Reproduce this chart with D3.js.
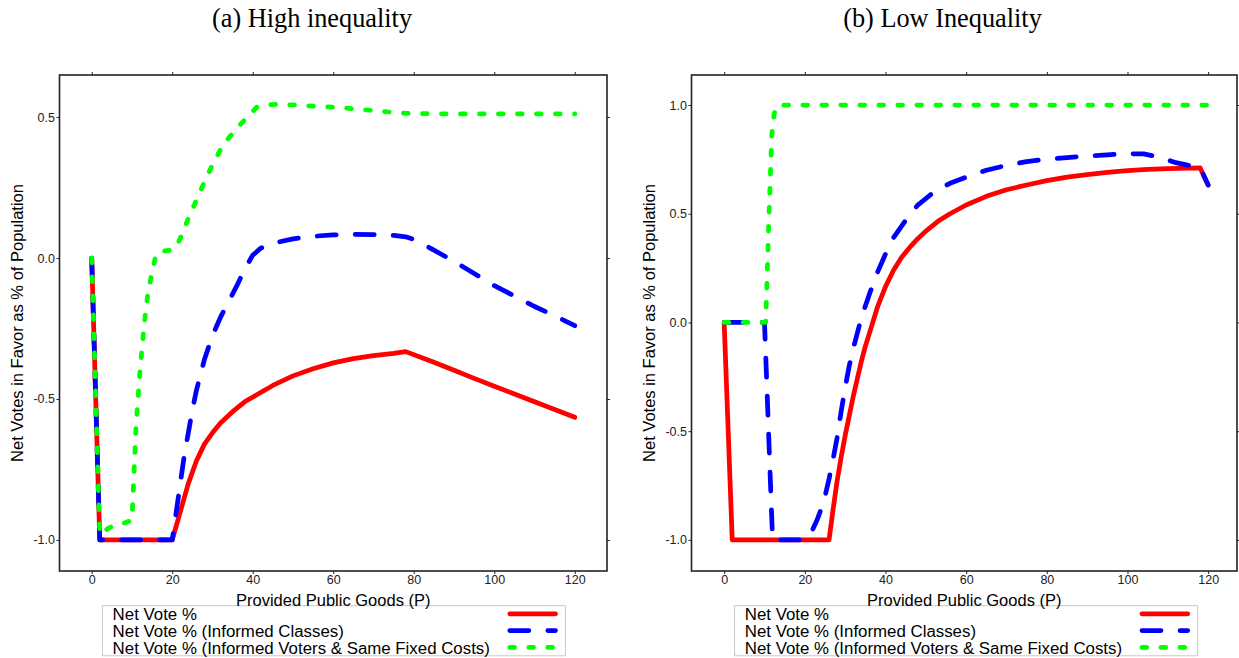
<!DOCTYPE html>
<html>
<head>
<meta charset="utf-8">
<script src="https://cdn.jsdelivr.net/npm/d3@7"></script>
<style>
  body { margin: 0; background: #fff; }
  svg { display: block; }
</style>
</head>
<body>
<div id="chart"></div>
<script>
// tick labels
const xTicks = [0, 20, 40, 60, 80, 100, 120]
const highYTicks = [-1, -0.5, 0, 0.5]
const lowYTicks = [-1, -0.5, 0, 0.5, 1]

const seriesNames = [
  "Net Vote %",
  "Net Vote % (Informed Classes)",
  "Net Vote % (Informed Voters & Same Fixed Costs)"
]

// (a) high inequality
const highNetP = [0, 2, 20, 21, 22, 23, 24, 26, 28, 30, 32, 35, 38, 41, 45, 50, 55, 60, 65, 70, 75, 78, 85, 90, 95, 100, 105, 110, 115, 120]
const highNetV = [0, -1, -1, -0.95, -0.9, -0.85, -0.8, -0.72, -0.66, -0.62, -0.585, -0.545, -0.51, -0.485, -0.452, -0.418, -0.393, -0.372, -0.357, -0.346, -0.338, -0.332, -0.37, -0.398, -0.427, -0.455, -0.482, -0.51, -0.537, -0.565]

const highClassP = [0, 2, 20, 21, 22, 23, 24, 25, 26, 28, 30, 32, 34, 36, 38, 40, 42, 45, 50, 55, 60, 65, 70, 75, 78, 80, 85, 90, 95, 100, 105, 110, 115, 120]
const highClassV = [0, -1, -1, -0.9, -0.8, -0.7, -0.62, -0.54, -0.47, -0.36, -0.275, -0.21, -0.155, -0.1, -0.04, 0.01, 0.035, 0.052, 0.068, 0.077, 0.082, 0.084, 0.083, 0.08, 0.075, 0.066, 0.028, -0.012, -0.055, -0.098, -0.135, -0.172, -0.205, -0.24]

const highFixedP = [0, 2, 4, 6, 8, 10, 11, 12, 13, 14, 15, 16, 18, 20, 21, 22, 24, 26, 28, 30, 32, 34, 36, 38, 40, 41, 43, 46, 50, 56, 60, 66, 70, 76, 80, 90, 100, 110, 120]
const highFixedV = [0, -0.98, -0.96, -0.945, -0.94, -0.93, -0.6, -0.4, -0.24, -0.12, -0.05, 0.015, 0.025, 0.028, 0.04, 0.07, 0.14, 0.205, 0.27, 0.33, 0.385, 0.425, 0.46, 0.49, 0.52, 0.535, 0.543, 0.545, 0.543, 0.538, 0.535, 0.528, 0.523, 0.515, 0.512, 0.511, 0.511, 0.511, 0.511]

// (b) low inequality
const lowNetP = [0, 2, 26, 27, 28, 29, 30, 31, 32, 33, 34, 35, 36, 38, 40, 42, 44, 46, 48, 50, 53, 56, 60, 65, 70, 75, 80, 85, 90, 95, 100, 105, 110, 118, 120]
const lowNetV = [0, -1, -1, -0.86, -0.73, -0.62, -0.52, -0.43, -0.34, -0.26, -0.18, -0.11, -0.05, 0.07, 0.165, 0.24, 0.3, 0.345, 0.385, 0.42, 0.465, 0.5, 0.54, 0.58, 0.61, 0.632, 0.652, 0.668, 0.68, 0.69, 0.698, 0.704, 0.708, 0.711, 0.632]

const lowClassP = [0, 10, 12, 20, 21, 22, 23, 24, 25, 26, 27, 28, 29, 30, 31, 32, 33, 34, 36, 38, 40, 42, 45, 48, 52, 56, 60, 65, 70, 75, 80, 85, 90, 95, 100, 104, 108, 112, 118, 120]
const lowClassV = [0, 0, -1, -1, -0.985, -0.95, -0.91, -0.86, -0.8, -0.72, -0.63, -0.53, -0.41, -0.3, -0.2, -0.12, -0.05, 0.02, 0.13, 0.23, 0.315, 0.39, 0.47, 0.54, 0.6, 0.64, 0.668, 0.7, 0.722, 0.74, 0.751, 0.758, 0.765, 0.771, 0.776, 0.775, 0.76, 0.735, 0.711, 0.632]

const lowFixedP = [0, 10.3, 11, 11.8, 12.4, 13.3, 120]
const lowFixedV = [0, 0, 0.43, 0.86, 0.96, 1, 1]

const colors = ["#ff0000", "#0000ff", "#00ff00"]
const dashes = [null, "19,19", "4.75,14.25"]
const LW = 4.75
const SANS = "'Liberation Sans', Arial, Helvetica, sans-serif"
const SERIF = "'Liberation Serif', 'Times New Roman', serif"
const INK = "#222"

const svg = d3.select("#chart").append("svg")
  .attr("width", 1239)
  .attr("height", 658)

const zip = (xs, ys) => xs.map((p, i) => [p, ys[i]])

function drawPanel(p) {
  const x = d3.scaleLinear().domain(p.xDomain).range([p.left, p.right])
  const y = d3.scaleLinear().domain(p.yDomain).range([p.bottom, p.top])

  const g = svg.append("g")

  // title
  g.append("text")
    .attr("x", p.titleX)
    .attr("y", 27)
    .attr("text-anchor", "middle")
    .attr("font-family", SERIF)
    .attr("font-size", "26.3px")
    .attr("fill", "#000")
    .text(p.title)

  const styleAxis = sel => {
    sel.select(".domain").remove()
    sel.selectAll(".tick line").attr("stroke", INK)
    sel.selectAll(".tick text")
      .attr("font-family", SANS)
      .attr("font-size", "12.5px")
      .attr("fill", INK)
  }

  g.append("g")
    .attr("transform", `translate(0, ${p.bottom})`)
    .call(d3.axisBottom(x).tickValues(xTicks).tickSize(3).tickPadding(1).tickFormat(d3.format("d")))
    .call(styleAxis)
  g.append("g")
    .attr("transform", `translate(0, ${p.top})`)
    .call(d3.axisTop(x).tickValues(xTicks).tickSize(3).tickFormat(""))
    .call(styleAxis)
  g.append("g")
    .attr("transform", `translate(${p.left}, 0)`)
    .call(d3.axisLeft(y).tickValues(p.yTicks).tickSize(3).tickPadding(1.5).tickFormat(d => d.toFixed(1)))
    .call(styleAxis)
  g.append("g")
    .attr("transform", `translate(${p.right}, 0)`)
    .call(d3.axisRight(y).tickValues(p.yTicks).tickSize(3).tickFormat(""))
    .call(styleAxis)

  // frame
  g.append("rect")
    .attr("x", p.left)
    .attr("y", p.top)
    .attr("width", p.right - p.left)
    .attr("height", p.bottom - p.top)
    .attr("fill", "none")
    .attr("stroke", INK)
    .attr("stroke-width", 1.6)

  const line = d3.line()
    .x(d => x(d[0]))
    .y(d => y(d[1]))

  p.series.forEach((s, i) => {
    g.append("path")
      .datum(s)
      .attr("d", line)
      .attr("fill", "none")
      .attr("stroke", colors[i])
      .attr("stroke-width", LW)
      .attr("stroke-linecap", "round")
      .attr("stroke-linejoin", "round")
      .attr("stroke-dasharray", dashes[i])
  })

  // legend
  const lg = g.append("g")
  lg.append("rect")
    .attr("x", p.legLeft)
    .attr("y", 605.7)
    .attr("width", p.legRight - p.legLeft)
    .attr("height", 50.1)
    .attr("fill", "none")
    .attr("stroke", "#c8c8c8")
    .attr("stroke-width", 1)

  seriesNames.forEach((name, i) => {
    const base = 620.3 + i * 16.8
    lg.append("text")
      .attr("x", p.legLeft + 10.2)
      .attr("y", base)
      .attr("font-family", SANS)
      .attr("font-size", "16.85px")
      .attr("fill", "#000")
      .text(name)
    lg.append("line")
      .attr("x1", p.legRight - 55.6)
      .attr("x2", p.legRight - 9.9)
      .attr("y1", base - 6.5)
      .attr("y2", base - 6.5)
      .attr("stroke", colors[i])
      .attr("stroke-width", LW)
      .attr("stroke-linecap", "round")
      .attr("stroke-dasharray", dashes[i])
  })

  // axis titles
  g.append("text")
    .attr("x", (p.left + p.right) / 2)
    .attr("y", 605.5)
    .attr("text-anchor", "middle")
    .attr("font-family", SANS)
    .attr("font-size", "16.5px")
    .attr("fill", "#000")
    .text("Provided Public Goods (P)")

  g.append("text")
    .attr("transform", `translate(${p.left - 36.5}, ${(p.top + p.bottom) / 2}) rotate(-90)`)
    .attr("text-anchor", "middle")
    .attr("font-family", SANS)
    .attr("font-size", "16.5px")
    .attr("fill", "#000")
    .text("Net Votes in Favor as % of Population")
}

drawPanel({
  title: "(a) High inequality",
  titleX: 312,
  left: 59.5, right: 607, top: 75, bottom: 571,
  xDomain: [-8, 128],
  yDomain: [-1.11, 0.649],
  yTicks: highYTicks,
  legLeft: 102.4, legRight: 565.4,
  series: [zip(highNetP, highNetV), zip(highClassP, highClassV), zip(highFixedP, highFixedV)]
})

drawPanel({
  title: "(b) Low Inequality",
  titleX: 942.5,
  left: 691.5, right: 1237, top: 75, bottom: 571,
  xDomain: [-8.1, 127.15],
  yDomain: [-1.143, 1.138],
  yTicks: lowYTicks,
  legLeft: 734.6, legRight: 1197.6,
  series: [zip(lowNetP, lowNetV), zip(lowClassP, lowClassV), zip(lowFixedP, lowFixedV)]
})
</script>
</body>
</html>
